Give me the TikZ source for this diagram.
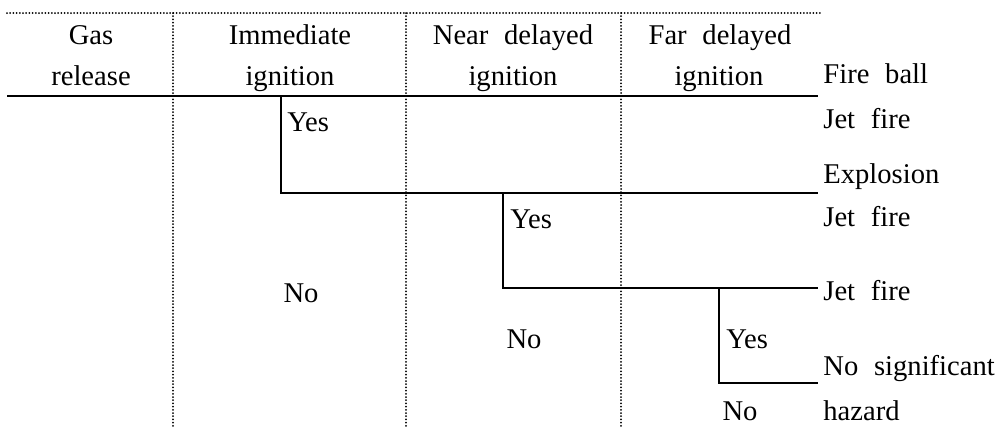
\documentclass[tikz,border=0pt]{standalone}
\usepackage{fontspec}
\setmainfont{Liberation Serif}
\newcommand\wsp{\spaceskip=0.55em\relax}
\begin{document}
\begin{tikzpicture}[x=0.5pt,y=-0.5pt,
  txt/.style={inner sep=0pt,font=\fontsize{14.3}{16}\selectfont,execute at begin node=\wsp},
  hd/.style={txt,anchor=base},
  outc/.style={txt,anchor=base west},
  lab/.style={txt,anchor=base west},
  branch/.style={line width=0.9pt},
  gridline/.style={line width=1pt,line cap=round,dash pattern=on 0pt off 1.6pt}]
\useasboundingbox (0,0) rectangle (1006,430);
% grid coordinates
\coordinate (tl) at (7,13);
\coordinate (tr) at (820,13);
\coordinate (v1t) at (173,13); \coordinate (v1b) at (173,428);
\coordinate (v2t) at (406,13); \coordinate (v2b) at (406,428);
\coordinate (v3t) at (621,13); \coordinate (v3b) at (621,428);
\draw[gridline] (tl) -- (tr);
\draw[gridline] (v1t) -- (v1b);
\draw[gridline] (v2t) -- (v2b);
\draw[gridline] (v3t) -- (v3b);
% headers
\node[hd] (h1a) at (91,44) {Gas};
\node[hd] (h1b) at (91,85) {release};
\node[hd] (h2a) at (290,44) {Immediate};
\node[hd] (h2b) at (290,85) {ignition};
\node[hd] (h3a) at (513,44) {Near delayed};
\node[hd] (h3b) at (513,85) {ignition};
\node[hd] (h4a) at (720,44) {Far delayed};
\node[hd] (h4b) at (719,85) {ignition};
% tree
\coordinate (s0) at (7,96);
\coordinate (e1) at (818,96);
\coordinate (b1) at (281,96); \coordinate (b1d) at (281,193); \coordinate (e2) at (818,193);
\coordinate (b2) at (503,193); \coordinate (b2d) at (503,288); \coordinate (e3) at (818,288);
\coordinate (b3) at (719,288); \coordinate (b3d) at (719,383); \coordinate (e4) at (818,383);
\draw[line width=1.1pt] (s0) -- (e1);
\draw[branch] (b1) -- (b1d) -- (e2);
\draw[branch] (b2) -- (b2d) -- (e3);
\draw[branch] (b3) -- (b3d) -- (e4);
% yes / no
\node[lab] (y1) at (287,131) {Yes};
\node[lab] (y2) at (510,228) {Yes};
\node[lab] (y3) at (726,348) {Yes};
\node[hd] (n1) at (301,302) {No};
\node[hd] (n2) at (524,348) {No};
\node[hd] (n3) at (740,420) {No};
% outcomes
\node[outc] (o1) at (823,83) {Fire ball};
\node[outc] (o2) at (823,128) {Jet fire};
\node[outc] (o3) at (823,183) {Explosion};
\node[outc] (o4) at (823,226) {Jet fire};
\node[outc] (o5) at (823,300) {Jet fire};
\node[outc] (o6) at (823,375) {No significant};
\node[outc] (o7) at (823,420) {hazard};
\end{tikzpicture}
\end{document}
